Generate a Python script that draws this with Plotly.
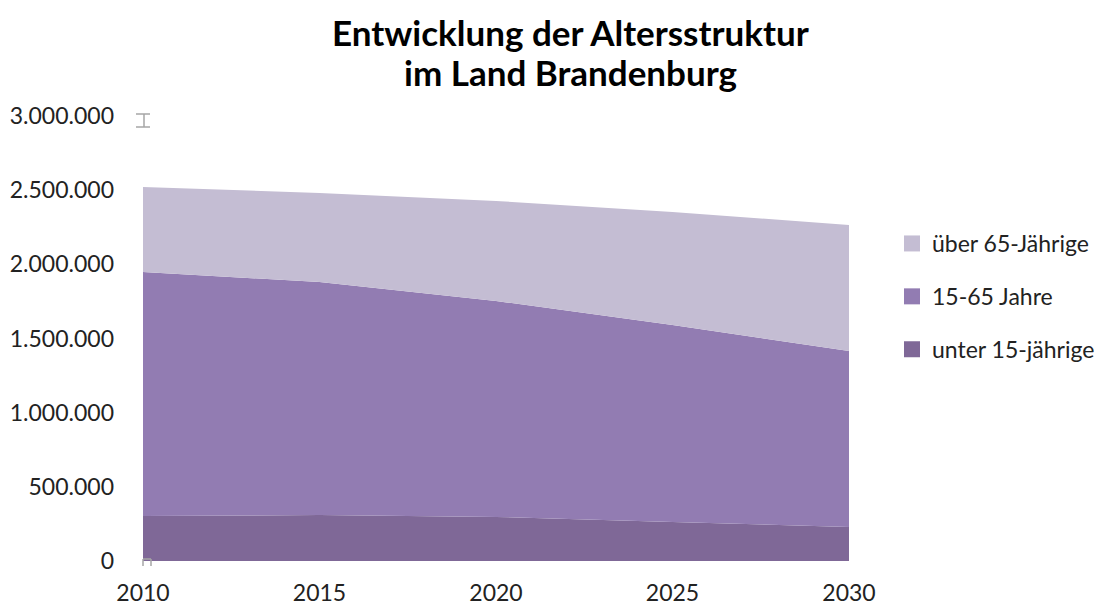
import plotly.graph_objects as go

years = [2010, 2015, 2020, 2025, 2030]
unter_15 = [303000, 310000, 297000, 263000, 229000]
jahre_15_65 = [1645000, 1571000, 1456000, 1328000, 1187000]
ueber_65 = [573000, 600000, 674000, 762000, 849000]

series_names = ["unter 15-jährige", "15-65 Jahre", "über 65-Jährige"]
series_values = [unter_15, jahre_15_65, ueber_65]
series_colors = ["#7F6897", "#927CB2", "#C4BDD3"]

y_tick_vals = [0, 500000, 1000000, 1500000, 2000000, 2500000, 3000000]
x_tick_vals = [2010, 2015, 2020, 2025, 2030]

title_lines = ["Entwicklung der Altersstruktur", "im Land Brandenburg"]

FONT = "Lato, 'Open Sans', sans-serif"
TXT = "#222222"

# plot-area geometry in pixels
L, R, T, B = 143, 849, 116, 561
W, H = 1108, 606


def px(x):
    return (x - L) / (R - L)


def py(y):
    return (B - y) / (B - T)


fig = go.Figure()
for name, vals, col in zip(series_names, series_values, series_colors):
    fig.add_trace(go.Scatter(
        x=years, y=vals, name=name, stackgroup="one", mode="none",
        fillcolor=col, line=dict(width=0), showlegend=False, hoverinfo="skip",
    ))

# legend entries with square swatches (top to bottom)
for i, (name, col) in enumerate(zip(series_names[::-1], series_colors[::-1])):
    fig.add_trace(go.Scatter(
        x=[None], y=[None], name=name, mode="markers",
        marker=dict(symbol="square", size=17, color=col),
        legendgroup=f"g{i}", showlegend=True,
    ))

shapes = []
grey = "#A6A6A6"
# small axis remnant marks
for (x0, y0, x1, y1) in [(136, 114, 150, 114), (144, 114, 144, 127), (136, 127, 150, 127),
                         (143, 559, 143, 566), (151, 559, 151, 566), (143, 559, 151, 559)]:
    shapes.append(dict(type="line", xref="paper", yref="paper",
                       x0=px(x0), y0=py(y0), x1=px(x1), y1=py(y1),
                       line=dict(color=grey, width=1.5)))

annotations = []
for text, yc in zip(title_lines, [32, 72]):
    annotations.append(dict(
        text=f"<b>{text}</b>", xref="paper", yref="paper", x=px(570), y=py(yc),
        xanchor="center", yanchor="middle", showarrow=False,
        font=dict(family=FONT, size=35, color="#000000"),
    ))

fig.update_layout(
    width=W, height=606,
    paper_bgcolor="white", plot_bgcolor="white",
    margin=dict(l=L, r=W - R, t=T, b=H - B, autoexpand=False),
    separators=",.",
    font=dict(family=FONT, size=23, color=TXT),
    xaxis=dict(
        range=[2010, 2030], tickvals=x_tick_vals, showgrid=False, zeroline=False,
        showline=False, ticks="", ticklabelstandoff=16, automargin=False,
        tickfont=dict(size=23, color=TXT),
    ),
    yaxis=dict(
        range=[0, 3000000], tickvals=y_tick_vals, tickformat=",d", showgrid=False,
        zeroline=False, showline=False, ticks="", ticklabelstandoff=28, automargin=False,
        tickfont=dict(size=23, color=TXT),
    ),
    legend=dict(
        x=px(892), xanchor="left", y=py(222), yanchor="top",
        traceorder="grouped", tracegroupgap=20,
        itemwidth=30, font=dict(size=23, color=TXT),
    ),
    shapes=shapes,
    annotations=annotations,
    showlegend=True,
)

fig.write_html(
    "out.html",
    config={"displayModeBar": False},
    post_script="document.body.style.margin='0';document.body.style.overflow='hidden';",
)
